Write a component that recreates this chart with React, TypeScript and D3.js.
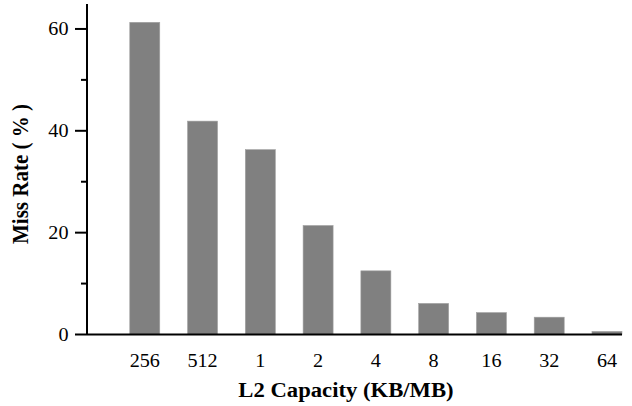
import React from 'react';
import * as d3 from 'd3';

const capacities = ['256', '512', '1', '2', '4', '8', '16', '32', '64'];
const missRates = [61.3, 41.9, 36.3, 21.4, 12.5, 6.1, 4.3, 3.4, 0.6];
const yMajorTicks = [0, 20, 40, 60];
const yMinorTicks = [10, 30, 50];

const W = 632;
const H = 406;
const left = 87;
const right = 622;
const top = 4;
const bottom = 334.5;

// the source image looks horizontally stretched, so text gets a small x scale
const stretch = 1.12;

const App = () => {
  const x = d3.scaleLinear().domain([0, 9.26]).range([left, right]);
  const y = d3.scaleLinear().domain([0, 64.9]).range([bottom, top]);
  const barW = 30;
  const font = '"Liberation Serif", "Times New Roman", serif';

  return (
    <svg width={W} height={H} style={{ position: 'absolute', left: 0, top: 0 }}>
      {missRates.map((v, i) => (
        <rect
          key={capacities[i]}
          x={x(i + 1) - barW / 2}
          y={y(v)}
          width={barW}
          height={y(0) - y(v)}
          fill="#808080"
          stroke="#a0a0a0"
          strokeWidth={0.6}
        />
      ))}
      <line x1={left} x2={left} y1={top} y2={bottom} stroke="#000" strokeWidth={2} />
      <line x1={left} x2={right} y1={bottom} y2={bottom} stroke="#000" strokeWidth={2} />
      {yMajorTicks.map((t) => (
        <g key={t}>
          <line x1={left - 12} x2={left} y1={y(t)} y2={y(t)} stroke="#000" strokeWidth={2} />
          <text
            transform={`translate(${left - 18.5}, ${y(t)}) scale(${stretch}, 1)`}
            dy="0.35em"
            textAnchor="end"
            fontFamily={font}
            fontSize={18}
          >
            {t}
          </text>
        </g>
      ))}
      {yMinorTicks.map((t) => (
        <line key={t} x1={left - 6} x2={left} y1={y(t)} y2={y(t)} stroke="#000" strokeWidth={2} />
      ))}
      {capacities.map((c, i) => (
        <text
          key={c}
          transform={`translate(${x(i + 1)}, 366.5) scale(${stretch}, 1)`}
          textAnchor="middle"
          fontFamily={font}
          fontSize={18}
        >
          {c}
        </text>
      ))}
      <text
        transform={`translate(346, 396.5) scale(1.08, 1)`}
        textAnchor="middle"
        fontFamily={font}
        fontSize={21}
        fontWeight="bold"
      >
        L2 Capacity (KB/MB)
      </text>
      <text
        transform={`translate(28, 174) rotate(-90) scale(1, 1.08)`}
        textAnchor="middle"
        fontFamily={font}
        fontSize={21}
        fontWeight="bold"
      >
        Miss Rate ( % )
      </text>
    </svg>
  );
};

export default App;
